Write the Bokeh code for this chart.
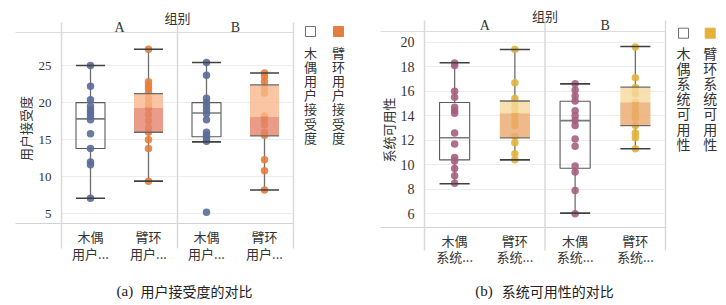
from bokeh.plotting import figure
from bokeh.models import FactorRange, Range1d, FixedTicker
from bokeh.layouts import row, column
from bokeh.embed import file_html
from bokeh.resources import INLINE
from bokeh.core.properties import value

SERIF = "Liberation Serif"
CJK = "Noto Sans CJK SC"
TXT = "#333333"

group_names = ["A", "B"]
device_names = ["木偶", "臂环"]
header_title = "组别"

# ---------------- panel (a): 用户接受度 ----------------
acc_title = "用户接受度"
acc_suffix = "用户..."
acc_legend = ["木偶用户接受度", "臂环用户接受度"]
acc_caption = ["(a)", "用户接受度的对比"]
acc_ticks = [5, 10, 15, 20, 25]
acc_A_wood = [25.0, 22.2, 20.4, 19.5, 19.0, 18.6, 18.2, 17.7, 15.8, 13.8, 12.0, 11.6, 7.1]
acc_A_band = [27.2, 22.8, 22.3, 21.9, 21.4, 20.6, 19.8, 19.2, 18.4, 17.5, 16.6, 16.0, 15.0, 13.8, 9.4]
acc_B_wood = [25.4, 23.7, 20.6, 20.0, 19.5, 19.0, 18.5, 17.7, 16.0, 15.6, 15.2, 14.8, 5.2]
acc_B_band = [24.0, 23.5, 22.8, 22.0, 21.3, 18.2, 17.7, 17.0, 16.0, 15.6, 12.3, 10.8, 8.2]
# box statistics, order: A木偶, A臂环, B木偶, B臂环
acc_lo = [7.1, 9.4, 14.7, 8.2]
acc_q1 = [13.8, 16.0, 15.4, 15.5]
acc_med = [17.8, 19.3, 18.6, 18.1]
acc_q3 = [20.0, 21.2, 20.0, 22.4]
acc_hi = [25.0, 27.2, 25.4, 24.0]

# ---------------- panel (b): 系统可用性 ----------------
sus_title = "系统可用性"
sus_suffix = "系统..."
sus_legend = ["木偶系统可用性", "臂环系统可用性"]
sus_caption = ["(b)", "系统可用性的对比"]
sus_ticks = [6, 8, 10, 12, 14, 16, 18, 20]
sus_A_wood = [18.3, 18.1, 16.0, 15.5, 14.7, 14.4, 14.2, 12.6, 11.7, 10.6, 10.3, 9.7, 9.1, 8.5]
sus_A_band = [19.4, 16.7, 15.4, 15.0, 14.6, 14.1, 13.6, 13.2, 12.3, 11.8, 10.9, 10.4]
sus_B_wood = [16.6, 16.1, 15.6, 15.2, 14.4, 14.0, 13.6, 13.2, 12.1, 11.5, 9.9, 9.4, 7.9, 6.0]
sus_B_band = [19.6, 17.1, 16.3, 15.8, 15.1, 14.6, 14.2, 13.8, 13.2, 12.6, 12.2, 11.3]
sus_lo = [8.45, 10.4, 6.05, 11.3]
sus_q1 = [10.4, 12.2, 9.72, 13.2]
sus_med = [12.2, 14.2, 13.6, 15.1]
sus_q3 = [15.08, 15.2, 15.18, 16.33]
sus_hi = [18.32, 19.4, 16.6, 19.65]


def blank(w, h, xr, yr, **kw):
    opts = dict(min_border=0)
    opts.update(kw)
    f = figure(width=w, height=h, x_range=xr, y_range=yr, output_backend="svg", toolbar_location=None,
               x_axis_location=None, y_axis_location=None, **opts)
    f.outline_line_color = None
    f.background_fill_color = "white"
    f.border_fill_color = "white"
    f.grid.grid_line_color = None
    f.grid.visible = False
    return f


def make_panel(cfg):
    MW = cfg["main_w"]
    left, right, frame_h, bottom = cfg["main_b"]
    MH = frame_h + bottom
    fw = MW - left - right
    y0, y1 = cfg["yrange"]
    ypp = (y1 - y0) / frame_h
    xpp = 4.0 / fw
    fpx = fw / 4.0

    # ---- header (group labels + top frame line) ----
    HH = cfg["hdr_h"]
    hdr = blank(MW, HH, FactorRange(factors=group_names, range_padding=0), Range1d(HH, 0),
                min_border_left=left, min_border_right=right)
    gx = 2.0 / fw
    hdr.segment(x0=[-cfg["ext_left"] * gx], x1=[2], y0=[HH - 0.6], y1=[HH - 0.6],
                line_color="#d2d2d2", line_width=1.2, level="overlay")
    hdr.segment(x0=[0, 1, 2], x1=[0, 1, 2], y0=[cfg["hdr_line_top"]] * 3, y1=[HH] * 3,
                line_color="#d9d9d9", line_width=1.5, level="overlay")
    hdr.text(x=[1.0], y=[cfg["hdr_title_y"]], text=[header_title], text_font=value(CJK),
             text_font_size=value("13px"), text_color=TXT, text_align="center", text_baseline="middle",
             level="overlay")
    hdr.text(x=group_names, y=[cfg["hdr_group_y"]] * 2, text=group_names, text_font=value(SERIF),
             text_font_size=value("14px"), text_color=TXT, text_align="center", text_baseline="middle",
             level="overlay")

    # ---- main plot ----
    factors = [(g, d + "\n" + cfg["suffix"]) for g in group_names for d in device_names]
    p = figure(width=MW, height=MH,
               x_range=FactorRange(factors=factors, range_padding=0, factor_padding=0, group_padding=0),
               y_range=Range1d(y0, y1), output_backend="svg", toolbar_location=None,
               min_border_left=left, min_border_right=right, min_border_top=0, min_border_bottom=bottom)
    p.outline_line_color = None
    p.background_fill_color = "white"
    p.border_fill_color = "white"
    p.xgrid.grid_line_color = None
    tk = FixedTicker(ticks=cfg["ticks"])
    p.yaxis.ticker = tk
    p.ygrid.ticker = tk
    p.ygrid.grid_line_color = "#ededed"
    p.ygrid.grid_line_width = 1

    ya = p.yaxis[0]
    ya.axis_line_color = None
    ya.major_tick_line_color = None
    ya.minor_tick_line_color = None
    ya.major_label_standoff = 4
    ya.major_label_text_font = SERIF
    ya.major_label_text_font_size = cfg["tick_size"]
    ya.major_label_text_color = TXT
    ya.axis_label = cfg["title"]
    ya.axis_label_text_font = CJK
    ya.axis_label_text_font_style = "normal"
    ya.axis_label_text_font_size = "13px"
    ya.axis_label_text_color = TXT
    ya.axis_label_standoff = cfg["title_standoff"]

    xa = p.xaxis[0]
    xa.axis_line_color = None
    xa.major_tick_line_color = None
    xa.minor_tick_line_color = None
    xa.major_label_standoff = cfg["xlab_standoff"]
    xa.major_label_text_font = CJK
    xa.major_label_text_font_size = "13px"
    xa.major_label_text_color = TXT
    xa.major_label_text_line_height = cfg["xlab_lh"]
    xa.group_text_color = None
    xa.group_text_font_size = "1px"
    xa.separator_line_color = None

    lo, q1, med, q3, hi = cfg["stats"]
    series = cfg["series"]
    pcol = cfg["point_colors"]
    light, dark = cfg["box_colors"]
    bw = 0.5
    cap = bw * fpx

    # frame lines
    p.segment(x0=[-cfg["ext_left"] * xpp], x1=[4], y0=[y0], y1=[y0],
              line_color="#d2d2d2", line_width=1.2, level="overlay")
    p.segment(x0=[0, 2, 4], x1=[0, 2, 4], y0=[y0 - cfg["ext_below"] * ypp] * 3,
              y1=[y1 + 1 * ypp] * 3, line_color="#d9d9d9", line_width=1.5, level="overlay")

    # whiskers
    p.segment(x0=factors, x1=factors, y0=q3, y1=hi, line_color="#6e6e6e", line_width=1.3)
    p.segment(x0=factors, x1=factors, y0=q1, y1=lo, line_color="#6e6e6e", line_width=1.3)

    wood = [0, 2]
    band = [1, 3]
    p.vbar(x=[factors[i] for i in wood], top=[q3[i] for i in wood], bottom=[q1[i] for i in wood],
           width=bw, fill_color=None, line_color="#5a5a5a", line_width=1.1)
    p.scatter(x=[factors[i] for i in wood], y=[med[i] for i in wood], marker="dash", size=cap,
              line_color="#7a7a7a", line_width=1.6)

    for i, vals in enumerate(series):
        col = pcol[i % 2]
        p.scatter(x=[factors[i]] * len(vals), y=vals, size=7.5, fill_color=col, line_color=None,
                  fill_alpha=0.9)

    p.vbar(x=[factors[i] for i in band], top=[q3[i] for i in band], bottom=[med[i] for i in band],
           width=bw, fill_color=light, fill_alpha=0.8, line_color=None)
    p.vbar(x=[factors[i] for i in band], top=[med[i] for i in band], bottom=[q1[i] for i in band],
           width=bw, fill_color=dark, fill_alpha=0.8, line_color=None)
    p.scatter(x=[factors[i] for i in band] * 2, y=[q3[i] for i in band] + [q1[i] for i in band],
              marker="dash", size=cap, line_color="#6a6a6a", line_width=1.3)

    p.scatter(x=factors * 2, y=lo + hi, marker="dash", size=cap, line_color="#404040", line_width=1.6)

    # ---- caption (frame aligned with main plot; x in page-local pixels) ----
    CH = 300 - HH - MH
    capf = blank(MW, CH, Range1d(left, MW - right), Range1d(CH, 0),
                 min_border_left=left, min_border_right=right)
    cx_label, cx_text = cfg["cap_x"]
    capf.text(x=[cx_label], y=[cfg["cap_y"]], text=[cfg["caption"][0]], text_font=value(SERIF),
              text_font_size=value("15px"), text_color="#222222", text_align="left", text_baseline="middle")
    capf.text(x=[cx_text], y=[cfg["cap_y"]], text=[cfg["caption"][1]], text_font=value(CJK),
              text_font_size=value("14px"), text_color="#222222", text_align="left", text_baseline="middle")

    # ---- legend ----
    LW = cfg["leg_w"]
    leg = blank(LW, 300, Range1d(0, LW), Range1d(300, 0))
    lx = cfg["leg_x"]
    leg.scatter(x=lx, y=[cfg["leg_sq_y"]] * 2, marker="square", size=10,
                fill_color=["white", pcol[1]], line_color=["#707070", pcol[1]], line_width=1)
    xs, ys, chs = [], [], []
    for j, txt in enumerate(cfg["legend"]):
        for k, ch in enumerate(txt):
            xs.append(lx[j])
            ys.append(cfg["leg_first"] + k * cfg["leg_pitch"])
            chs.append(ch)
    leg.text(x=xs, y=ys, text=chs, text_font=value(CJK), text_font_size=value(cfg["leg_size"]),
             text_color=TXT, text_align="center", text_baseline="middle")

    return row(column(hdr, p, capf), leg)


cfg_a = dict(main_w=296, main_b=(61, 3, 190, 47), hdr_h=33, yrange=(3.69, 29.32), ticks=acc_ticks,
             title=acc_title, suffix=acc_suffix, legend=acc_legend, caption=acc_caption,
             series=[acc_A_wood, acc_A_band, acc_B_wood, acc_B_band],
             stats=(acc_lo, acc_q1, acc_med, acc_q3, acc_hi),
             point_colors=["#5a6b98", "#e57e3c"], box_colors=("#f9b68b", "#e5836a"),
             tick_size="13px", title_standoff=1, xlab_standoff=-3, xlab_lh=0.94,
             ext_left=46, ext_below=25, hdr_line_top=22, hdr_title_y=17, hdr_group_y=26.5,
             cap_x=(116, 140), cap_y=20,
             leg_w=67, leg_x=[14, 42], leg_sq_y=31, leg_first=52, leg_pitch=14.1, leg_size="13px")

cfg_b = dict(main_w=305, main_b=(61, 3, 195, 43), hdr_h=32, yrange=(4.88, 20.79), ticks=sus_ticks,
             title=sus_title, suffix=sus_suffix, legend=sus_legend, caption=sus_caption,
             series=[sus_A_wood, sus_A_band, sus_B_wood, sus_B_band],
             stats=(sus_lo, sus_q1, sus_med, sus_q3, sus_hi),
             point_colors=["#a5607f", "#e3b23c"], box_colors=("#f6d99d", "#eba96b"),
             tick_size="14px", title_standoff=0, xlab_standoff=-3, xlab_lh=0.88,
             ext_left=44, ext_below=23, hdr_line_top=20, hdr_title_y=15, hdr_group_y=24.5,
             cap_x=(111.7, 138.3), cap_y=20,
             leg_w=50, leg_x=[15, 41.7], leg_sq_y=32.7, leg_first=52, leg_pitch=15.2, leg_size="14px")

layout = row(make_panel(cfg_a), make_panel(cfg_b))

with open("out.html", "w") as f:
    f.write(file_html(layout, INLINE))
